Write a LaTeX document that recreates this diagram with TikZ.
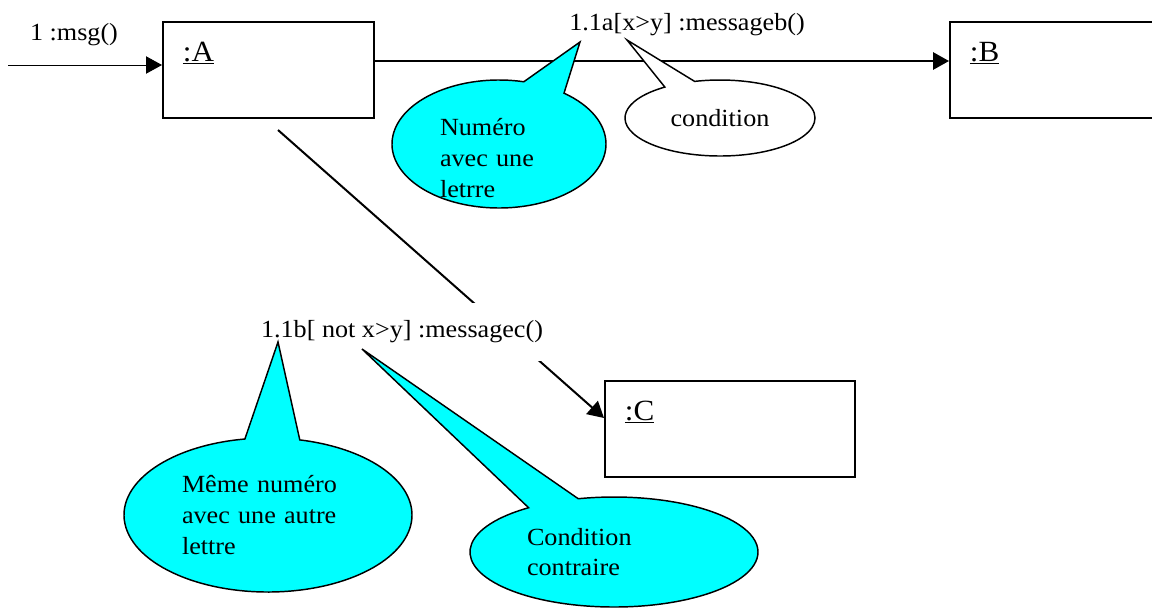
\documentclass[tikz,border=0pt]{standalone}
\usepackage{fontspec}
\setmainfont{Liberation Serif}[FakeStretch=1.06]
\usetikzlibrary{shapes.callouts,arrows.meta}
\definecolor{cyanbulle}{RGB}{0,255,255}

\begin{document}
\begin{tikzpicture}[x=0.75pt,y=-0.75pt,
    every node/.style={font=\fontsize{18.5}{23}\selectfont},
    objet/.style={draw, line width=1.5pt, minimum height=72pt, inner sep=0pt},
    nom/.style={anchor=base west, inner sep=0pt, xshift=15.5pt, yshift=-30pt, font=\fontsize{22}{26}\selectfont},
    msg/.style={line width=1.5pt, -{Triangle[length=12pt,width=13pt]}},
    bulle/.style={ellipse callout, draw, line width=1.1pt, fill=cyanbulle, inner sep=0pt, align=left}]
  \useasboundingbox (0,0) rectangle (1152,608);

  % les objets
  \node[objet, minimum width=158.25pt, label={[nom]north west:{\underline{:A}}}] (a) at (268.5,70) {};
  \node[objet, minimum width=158.25pt, label={[nom]north west:{\underline{:B}}}] (b) at (1055.5,70) {};
  \node[objet, minimum width=187.5pt, label={[nom]north west:{\underline{:C}}}] (c) at (730,429) {};

  % les messages
  \coordinate (depart) at (8,65);
  \draw[line width=0.75pt, -{Triangle[length=12pt,width=13pt]}] (depart) -- ([yshift=3.75pt]a.west);
  \node (m1) at (74,35) {1 :msg()};
  \draw[msg] ([yshift=6.75pt]a.east) -- ([yshift=6.75pt]b.west);
  \node (m2) at (687,25) {1.1a[x>y] :messageb()};
  \coordinate (lien) at (278,130);
  \draw[msg] (lien) -- ([yshift=8.25pt]c.west);
  \node[fill=white, inner xsep=2pt, inner ysep=13pt] (m3) at (402,332) {1.1b[ not x>y] :messagec()};

  % les bulles
  \coordinate (pnum) at (580,42);
  \coordinate (pcond) at (627,40);
  \coordinate (pmeme) at (278,342);
  \coordinate (pcontr) at (362,349);
  \node[bulle, callout absolute pointer=(pnum), callout pointer arc=24,
    minimum width=160.5pt, minimum height=96pt] (num) at (499,144) {};
  \node[align=left, text width=88.5pt, inner sep=0pt] (numtxt) at ([yshift=-10.5pt]num.center) {Numéro\\avec une\\letrre};
  \node[bulle, fill=white, callout absolute pointer=(pcond), callout pointer arc=20,
    minimum width=142.5pt, minimum height=57pt] (cond) at (720,118) {condition};
  \node[bulle, callout absolute pointer=(pmeme), callout pointer arc=22,
    minimum width=216pt, minimum height=115.5pt, text width=129pt] (meme) at (268,515) {Même numéro\\avec une autre\\lettre};
  \node[bulle, callout absolute pointer=(pcontr), callout pointer arc=22,
    minimum width=216pt, minimum height=82.5pt, text width=130.5pt] (contr) at (614,552) {Condition\\contraire};
\end{tikzpicture}
\end{document}
